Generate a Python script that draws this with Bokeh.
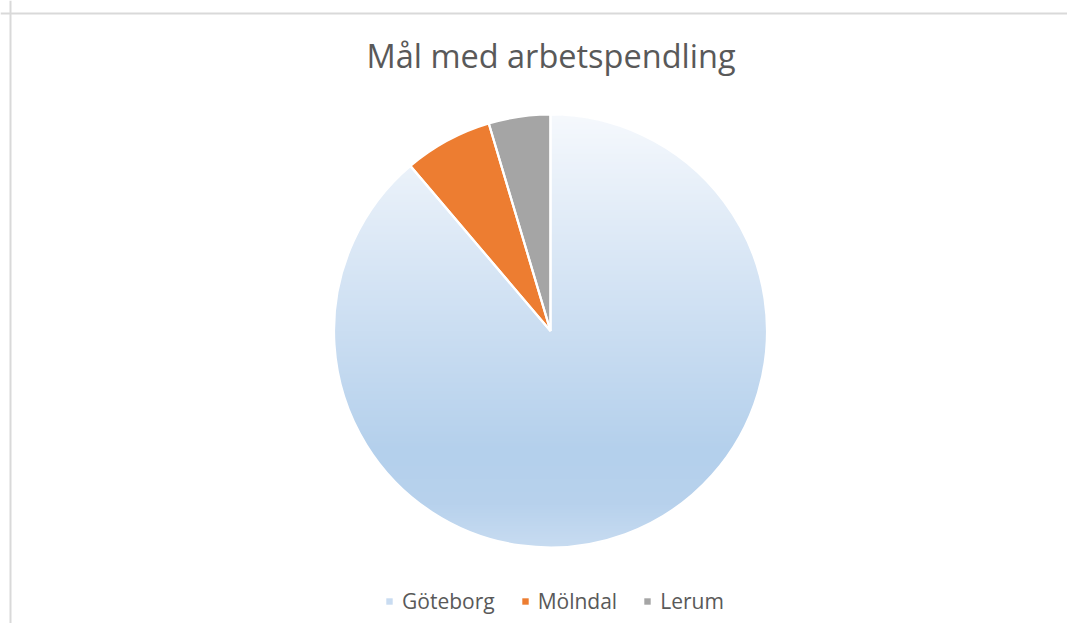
import numpy as np
from bokeh.plotting import figure
from bokeh.models import ColumnDataSource, Legend, LegendItem, Label, Span, Range1d
from bokeh.embed import file_html
from bokeh.resources import INLINE

# ---- data ----
categories = ["Göteborg", "Mölndal", "Lerum"]
values = [88.8, 6.6, 4.6]          # share of commuters, %
colors = ["#c9dcf1", "#ed7d31", "#a5a5a5"]
title_text = "Mål med arbetspendling"

# gradient stops for the Göteborg slice (top -> bottom)
grad_pos = [0.0, 0.5, 0.78, 0.9, 1.0]
grad_rgb = [(246, 249, 253), (203, 222, 242), (180, 208, 236), (184, 210, 237), (200, 220, 241)]

W, H = 1067, 623
cx, cy, R = 550.0, 292.5, 216.5

# slices counterclockwise from 12 o'clock: Lerum, Mölndal, Göteborg
order = [2, 1, 0]
total = sum(values)
start = {}
end = {}
a = np.pi / 2
for i in order:
    start[i] = a
    a = a + values[i] / total * 2 * np.pi
    end[i] = a

src = ColumnDataSource(dict(
    name=categories,
    value=values,
    color=colors,
    start=[start[i] for i in range(3)],
    end=[end[i] for i in range(3)],
))

p = figure(width=W, height=H, output_backend="svg", toolbar_location=None,
           x_range=Range1d(0, W), y_range=Range1d(0, H),
           x_axis_type=None, y_axis_type=None, min_border=0)
p.grid.visible = False
p.outline_line_color = None
p.background_fill_color = "white"
p.border_fill_color = "white"

# solid wedges (Göteborg is overlaid with a gradient image)
wr = p.wedge(x=cx, y=cy, radius=R, start_angle="start", end_angle="end",
             fill_color="color", line_color=None, source=src)

# gradient image for Göteborg slice
n = int(2 * R)
ys = cy - R + np.arange(n) + 0.5
xs = cx - R + np.arange(n) + 0.5
XX, YY = np.meshgrid(xs, ys)
t = (cy + R - YY) / (2 * R)
img = np.zeros((n, n, 4), dtype=np.uint8)
for c in range(3):
    img[..., c] = np.interp(t, grad_pos, [g[c] for g in grad_rgb]).astype(np.uint8)
rr = np.hypot(XX - cx, YY - cy)
ang = np.mod(np.arctan2(YY - cy, XX - cx) - np.pi / 2, 2 * np.pi) + np.pi / 2
s0, e0 = start[0], end[0]
inside = (ang >= s0) & (ang <= e0)
alpha = np.clip(R - rr + 0.5, 0, 1) * inside
img[..., 3] = (alpha * 255).astype(np.uint8)
p.image_rgba(image=[img.view(np.uint32).reshape(n, n)], x=cx - R, y=cy - R, dw=2 * R, dh=2 * R)

# white separators
p.wedge(x=cx, y=cy, radius=R, start_angle="start", end_angle="end",
        fill_color=None, line_color="white", line_width=2.2, source=src)

# frame lines
p.add_layout(Span(location=10, dimension="height", line_color="#d9d9d9", line_width=2))
p.add_layout(Span(location=610, dimension="width", line_color="#d9d9d9", line_width=2))

# title
p.add_layout(Label(x=550.5, y=568.5, text=title_text, text_align="center",
                   text_baseline="alphabetic", text_font="Open Sans",
                   text_font_size="32.5px", text_color="#595959"))

legend = Legend(items=[LegendItem(label=categories[i], renderers=[wr], index=i) for i in range(3)],
                orientation="horizontal", location=(385, 8),
                glyph_width=8, glyph_height=8, label_standoff=9, spacing=26,
                padding=0, margin=0, border_line_color=None, background_fill_alpha=0,
                label_text_font="Open Sans", label_text_font_size="21px",
                label_text_color="#595959")
p.add_layout(legend)

open("out.html", "w").write(file_html(p, INLINE))
